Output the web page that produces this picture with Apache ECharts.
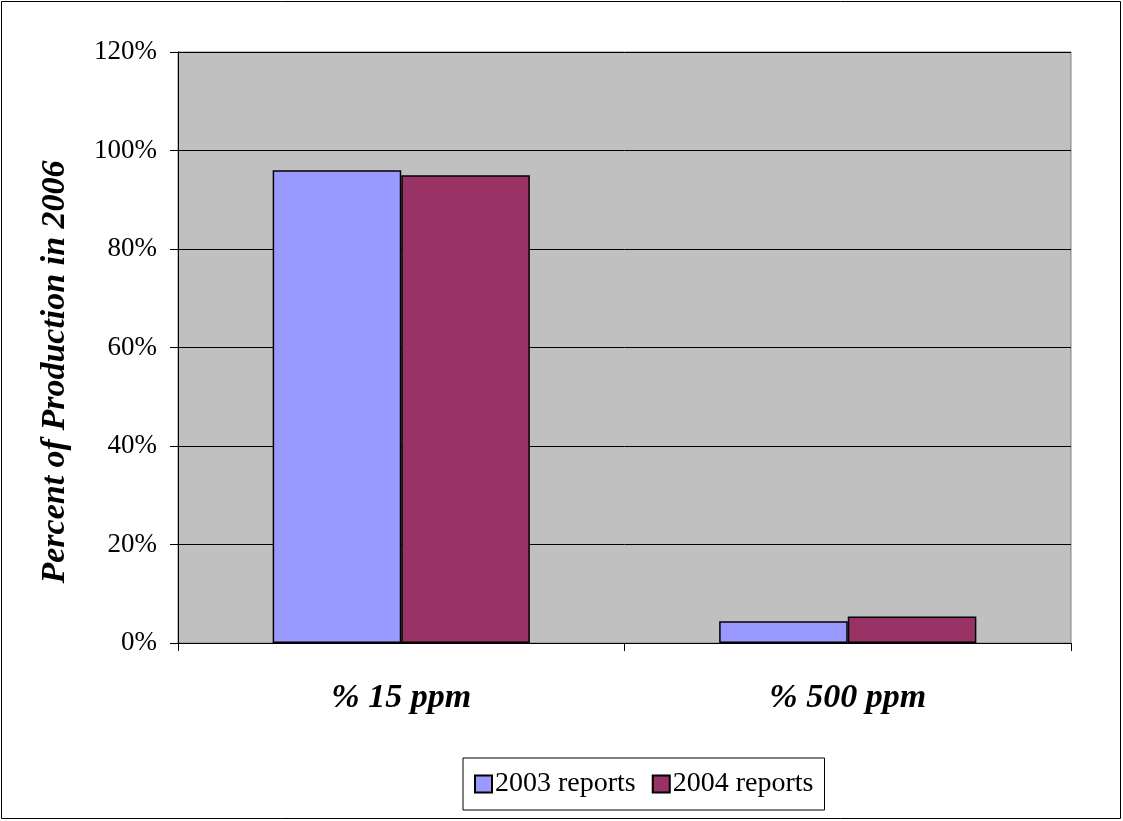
<!DOCTYPE html>
<html><head><meta charset="utf-8">
<script src="https://cdn.jsdelivr.net/npm/echarts@6/dist/echarts.min.js"></script>
<style>html,body{margin:0;padding:0;background:#fff}#c{width:1123px;height:821px}</style>
</head><body><div id="c"></div>
<script>
const categories = ['% 15 ppm', '% 500 ppm'];
const series2003 = [96.0, 4.4];
const series2004 = [95.0, 5.4];
const seriesNames = ['2003 reports', '2004 reports'];
const yTicks = [0, 20, 40, 60, 80, 100, 120];
const yTitle = 'Percent of Production in 2006';

const FONT = '"Liberation Serif", "Times New Roman", serif';
const chart = echarts.init(document.getElementById('c'), null, {renderer: 'canvas'});
chart.setOption({
  animation: false,
  backgroundColor: '#fff',
  textStyle: {fontFamily: FONT, color: '#000'},
  graphic: [{
    type: 'rect', shape: {x: 1.5, y: 1.5, width: 1119, height: 817},
    style: {fill: 'none', stroke: '#000', lineWidth: 1}, silent: true, z: -10
  }, {
    type: 'text', x: 55, y: 372, rotation: Math.PI / 2,
    style: {text: yTitle, font: 'italic bold 34px ' + FONT, fill: '#000',
      align: 'center', verticalAlign: 'middle'}, silent: true
  }],
  grid: {left: 178, right: 52, top: 52, bottom: 178, show: true,
    backgroundColor: '#C0C0C0', borderColor: '#808080', borderWidth: 1},
  legend: {
    data: seriesNames, top: 758, left: 463,
    borderColor: '#000', borderWidth: 1, padding: [12, 11, 12, 11],
    itemWidth: 17, itemHeight: 17, itemGap: 16,
    textStyle: {fontFamily: FONT, fontSize: 28, color: '#000', padding: [0, 0, 0, -2]},
    icon: 'rect', itemStyle: {borderColor: '#000', borderWidth: 2}
  },
  xAxis: {
    type: 'category', data: categories,
    axisLine: {lineStyle: {color: '#000'}},
    axisTick: {show: true, length: 8, lineStyle: {color: '#000'}},
    axisLabel: {fontFamily: FONT, fontSize: 34, fontWeight: 'bold', fontStyle: 'italic', color: '#000', margin: 38}
  },
  yAxis: {
    type: 'value', min: 0, max: 120, interval: 20,
    axisLine: {show: true, lineStyle: {color: '#000'}},
    axisTick: {show: true, length: 8, lineStyle: {color: '#000'}},
    splitLine: {lineStyle: {color: '#000', width: 1}},
    axisLabel: {fontFamily: FONT, fontSize: 27, color: '#000', margin: 21,
      formatter: v => yTicks.includes(v) ? v + '%' : ''}
  },
  series: [
    {name: seriesNames[0], type: 'bar', data: series2003, barGap: '0%', barCategoryGap: '42.4%',
      itemStyle: {color: '#9999FF', borderColor: '#000', borderWidth: 1.5}},
    {name: seriesNames[1], type: 'bar', data: series2004, barGap: '0%', barCategoryGap: '42.4%',
      itemStyle: {color: '#993366', borderColor: '#000', borderWidth: 1.5}}
  ]
});
</script></body></html>
